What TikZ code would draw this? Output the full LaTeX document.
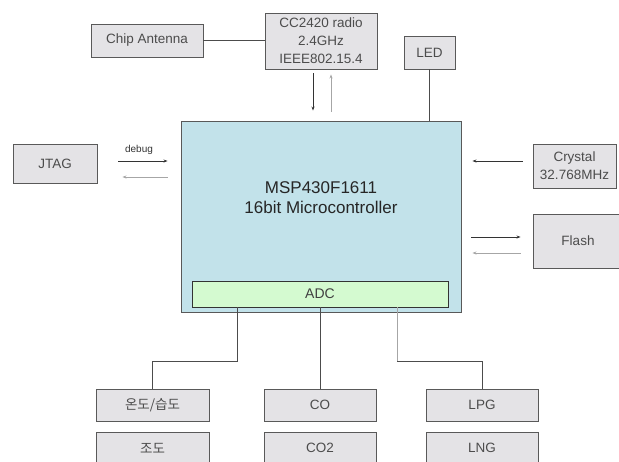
\documentclass[tikz,border=0pt]{standalone}
\usepackage{fontspec}
\setmainfont{Liberation Sans}
\newfontfamily\korean{Noto Sans CJK KR}
\usetikzlibrary{arrows.meta}

\definecolor{boxgray}{HTML}{E4E3E6}
\definecolor{mcublue}{HTML}{C2E2EA}
\definecolor{adcgreen}{HTML}{D4FAD0}

\begin{document}
\begin{tikzpicture}[x=1pt,y=-1pt,
    block/.style={draw=black!65,line width=0.9pt,fill=boxgray,text=black!70,
        font=\fontsize{13.5}{18}\selectfont,inner sep=0pt,align=center},
    link/.style={draw=black!70,line width=0.8pt},
    faint/.style={draw=black!35,line width=0.8pt},
    arr/.style={-{Stealth[length=4pt,width=3pt]},line width=0.8pt,draw=black!80},
    back/.style={arr,draw=black!35}]
    \useasboundingbox (0,0) rectangle (619,461);

    % Radio side
    \node[block,minimum width=112pt,minimum height=33pt] (antenna) at (147,40.5) {Chip Antenna};
    \node[block,minimum width=112pt,minimum height=56pt] (radio) at (321,41) {CC2420 radio\\2.4GHz\\IEEE802.15.4};
    \node[block,minimum width=51pt,minimum height=33pt] (led) at (429.5,52.5) {LED};

    % Microcontroller and ADC
    \node[draw=black!65,line width=0.9pt,fill=mcublue,minimum width=280pt,minimum height=191pt] (mcu) at (321,216.5) {};
    \node[text=black!85,font=\fontsize{17}{20}\selectfont,align=center] (mculabel) at (321,198) {MSP430F1611\\16bit Microcontroller};
    \node[draw=black!80,line width=0.9pt,fill=adcgreen,text=black!75,font=\fontsize{14}{17}\selectfont,
        minimum width=256pt,minimum height=26pt,inner sep=0pt] (adc) at (320,294) {ADC};

    % Left and right blocks
    \node[block,minimum width=84pt,minimum height=39pt] (jtag) at (55,163.5) {JTAG};
    \node[block,minimum width=83pt,minimum height=44pt] (crystal) at (574.5,166) {Crystal\\32.768MHz};
    \node[block,minimum width=90pt,minimum height=54pt] (flash) at (578,241) {Flash};

    % Sensors
    \node[block,minimum width=113pt,minimum height=32pt] (hum) at (152.5,405) {\korean 온도/습도};
    \node[block,minimum width=112pt,minimum height=32pt] (co) at (320,405) {CO};
    \node[block,minimum width=112pt,minimum height=32pt] (lpg) at (482,405) {LPG};
    \node[block,minimum width=113pt,minimum height=32pt] (lux) at (152.5,448) {\korean 조도};
    \node[block,minimum width=112pt,minimum height=32pt] (co2) at (320,448) {CO2};
    \node[block,minimum width=112pt,minimum height=32pt] (lng) at (482,448) {LNG};

    % Connectors
    \draw[link] (antenna.east) -- (radio.west |- antenna.east);
    \draw[link] (led.south) -- (led.south |- mcu.north);
    \draw[arr,shorten <=4pt,shorten >=10pt] ([xshift=-8pt]radio.south) -- ([xshift=-8pt]radio.south |- mcu.north);
    \draw[back,shorten <=9pt,shorten >=5pt] ([xshift=10pt]radio.south |- mcu.north) -- ([xshift=10pt]radio.south);

    \draw[arr,shorten <=21pt,shorten >=13pt] ([yshift=2.5pt]jtag.east) -- ([yshift=2.5pt]jtag.east -| mcu.west)
        node[midway,above=3pt,text=black!80,font=\fontsize{10}{12}\selectfont] (debug) {debug};
    \draw[back,shorten <=13pt,shorten >=25pt] ([yshift=-13.5pt]jtag.east -| mcu.west) -- ([yshift=-13.5pt]jtag.east);

    \draw[arr,shorten <=10pt,shorten >=11pt] ([yshift=5pt]crystal.west) -- ([yshift=5pt]crystal.west -| mcu.east);
    \draw[arr,shorten <=10pt,shorten >=12pt] ([yshift=4pt]mcu.east |- flash.west) -- ([yshift=4pt]flash.west);
    \draw[back,shorten <=12pt,shorten >=11pt] ([yshift=-12pt]flash.west) -- ([yshift=-12pt]mcu.east |- flash.west);

    \coordinate (tap1) at (237,361);
    \coordinate (tap3) at (397,361);
    \draw[link] (tap1 |- adc.south) -- (tap1) -| (hum.north);
    \draw[link] (adc.south -| co.north) -- (co.north);
    \draw[faint] (tap3 |- adc.south) -- (tap3);
    \draw[link] (tap3) -| (lpg.north);
\end{tikzpicture}
\end{document}
